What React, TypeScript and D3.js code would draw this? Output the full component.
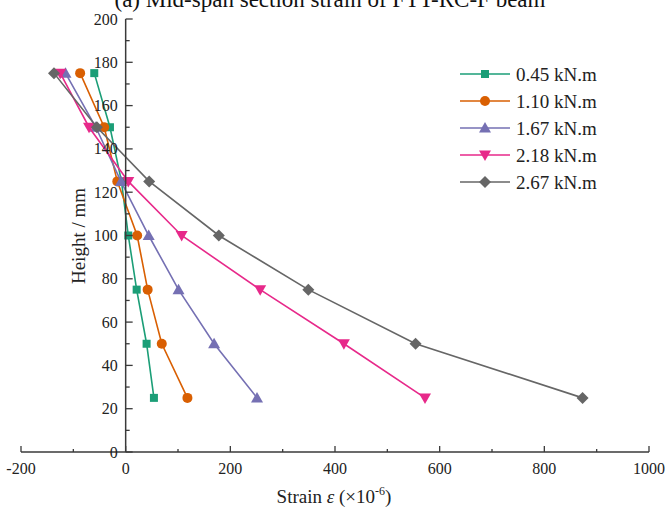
import React from "react";
import * as d3 from "d3";

const heights = [175, 150, 125, 100, 75, 50, 25];
const seriesNames = ["0.45 kN.m", "1.10 kN.m", "1.67 kN.m", "2.18 kN.m", "2.67 kN.m"];
const strain045 = [-60, -30, -8, 5, 21, 40, 54];
const strain110 = [-87, -41, -16, 22, 42, 69, 118];
const strain167 = [-115, -57, -9, 44, 101, 169, 251];
const strain218 = [-125, -70, 5, 107, 257, 417, 572];
const strain267 = [-137, -55, 45, 178, 349, 554, 873];
const seriesColors = ["#1b9e77", "#d95f02", "#7570b3", "#e7298a", "#666666"];
const seriesSymbols = ["square", "circle", "triangle", "triangleDown", "diamond"];
const xTicks = [-200, 0, 200, 400, 600, 800, 1000];
const yTicks = [0, 20, 40, 60, 80, 100, 120, 140, 160, 180, 200];

const W = 665;
const H = 513;
const FONT = "'Liberation Serif', 'Times New Roman', serif";

function Marker({ kind, x, y, color }: { kind: string; x: number; y: number; color: string }) {
  if (kind === "square") {
    const s = 8;
    return <rect x={x - s / 2} y={y - s / 2} width={s} height={s} fill={color} />;
  }
  if (kind === "circle") {
    return <circle cx={x} cy={y} r={5} fill={color} />;
  }
  if (kind === "triangle") {
    const r = 6;
    return (
      <path d={`M${x},${y - r}L${x + r},${y + r * 0.75}L${x - r},${y + r * 0.75}Z`} fill={color} />
    );
  }
  if (kind === "triangleDown") {
    const r = 6;
    return (
      <path d={`M${x},${y + r}L${x + r},${y - r * 0.75}L${x - r},${y - r * 0.75}Z`} fill={color} />
    );
  }
  const r = 6;
  return <path d={`M${x},${y - r}L${x + r},${y}L${x},${y + r}L${x - r},${y}Z`} fill={color} />;
}

export default function App() {
  const x = d3.scaleLinear().domain([-200, 1000]).range([21, 649]);
  const y = d3.scaleLinear().domain([0, 200]).range([452, 19]);
  const allSeries = [strain045, strain110, strain167, strain218, strain267];
  const line = d3
    .line<[number, number]>()
    .x((d) => x(d[0]))
    .y((d) => y(d[1]));

  const axisColor = "#3a3a3a";
  const xMinor = d3.range(-200, 1001, 100);
  const yMinor = d3.range(0, 201, 10);

  return (
    <svg
      width={W}
      height={H}
      style={{ position: "absolute", left: 0, top: 0, background: "#fff" }}
      fontFamily={FONT}
    >
      <rect x={0} y={0} width={W} height={H} fill="#fff" />
      <text x={330} y={7} textAnchor="middle" fontSize={23} fill="#111">
        (a) Mid-span section strain of FTT-RC-F beam
      </text>

      {/* data series */}
      {allSeries.map((vals, i) => {
        const pts: [number, number][] = vals.map((v, j) => [v, heights[j]]);
        return (
          <g key={i}>
            <path d={line(pts) || ""} fill="none" stroke={seriesColors[i]} strokeWidth={1.6} />
            {pts.map((p, j) => (
              <Marker key={j} kind={seriesSymbols[i]} x={x(p[0])} y={y(p[1])} color={seriesColors[i]} />
            ))}
          </g>
        );
      })}

      {/* x axis */}
      <line x1={x(-200)} x2={x(1000)} y1={y(0)} y2={y(0)} stroke={axisColor} strokeWidth={1.5} />
      {xMinor.map((t) => (
        <line
          key={"xm" + t}
          x1={x(t)}
          x2={x(t)}
          y1={y(0)}
          y2={y(0) - (t % 200 === 0 ? 6 : 3)}
          stroke={axisColor}
          strokeWidth={1.3}
        />
      ))}
      {xTicks.map((t) => (
        <text key={"xt" + t} x={x(t)} y={y(0) + 22} textAnchor="middle" fontSize={16} fill="#222">
          {t}
        </text>
      ))}
      <text x={334} y={503} textAnchor="middle" fontSize={19} fill="#222">
        Strain <tspan fontStyle="italic">ε</tspan> (×10
        <tspan dy={-8} fontSize={12}>-6</tspan>
        <tspan dy={8}>)</tspan>
      </text>

      {/* y axis */}
      <line x1={x(0)} x2={x(0)} y1={y(0)} y2={y(200)} stroke={axisColor} strokeWidth={1.5} />
      {yMinor.map((t) => (
        <line
          key={"ym" + t}
          x1={x(0)}
          x2={x(0) + (t % 20 === 0 ? 7 : 4)}
          y1={y(t)}
          y2={y(t)}
          stroke={axisColor}
          strokeWidth={1.3}
        />
      ))}
      {yTicks.map((t) => (
        <text key={"yt" + t} x={x(0) - 8} y={y(t) + 5.5} textAnchor="end" fontSize={16} fill="#222">
          {t}
        </text>
      ))}
      <text
        transform={`translate(85,236) rotate(-90)`}
        textAnchor="middle"
        fontSize={19}
        fill="#222"
      >
        Height / mm
      </text>

      {/* legend */}
      {seriesNames.map((name, i) => {
        const ly = 74 + i * 27;
        return (
          <g key={"lg" + i}>
            <line x1={460} x2={510} y1={ly} y2={ly} stroke={seriesColors[i]} strokeWidth={1.6} />
            <Marker kind={seriesSymbols[i]} x={485} y={ly} color={seriesColors[i]} />
            <text x={516} y={ly + 6.5} fontSize={19} fill="#222">
              {name}
            </text>
          </g>
        );
      })}
    </svg>
  );
}
